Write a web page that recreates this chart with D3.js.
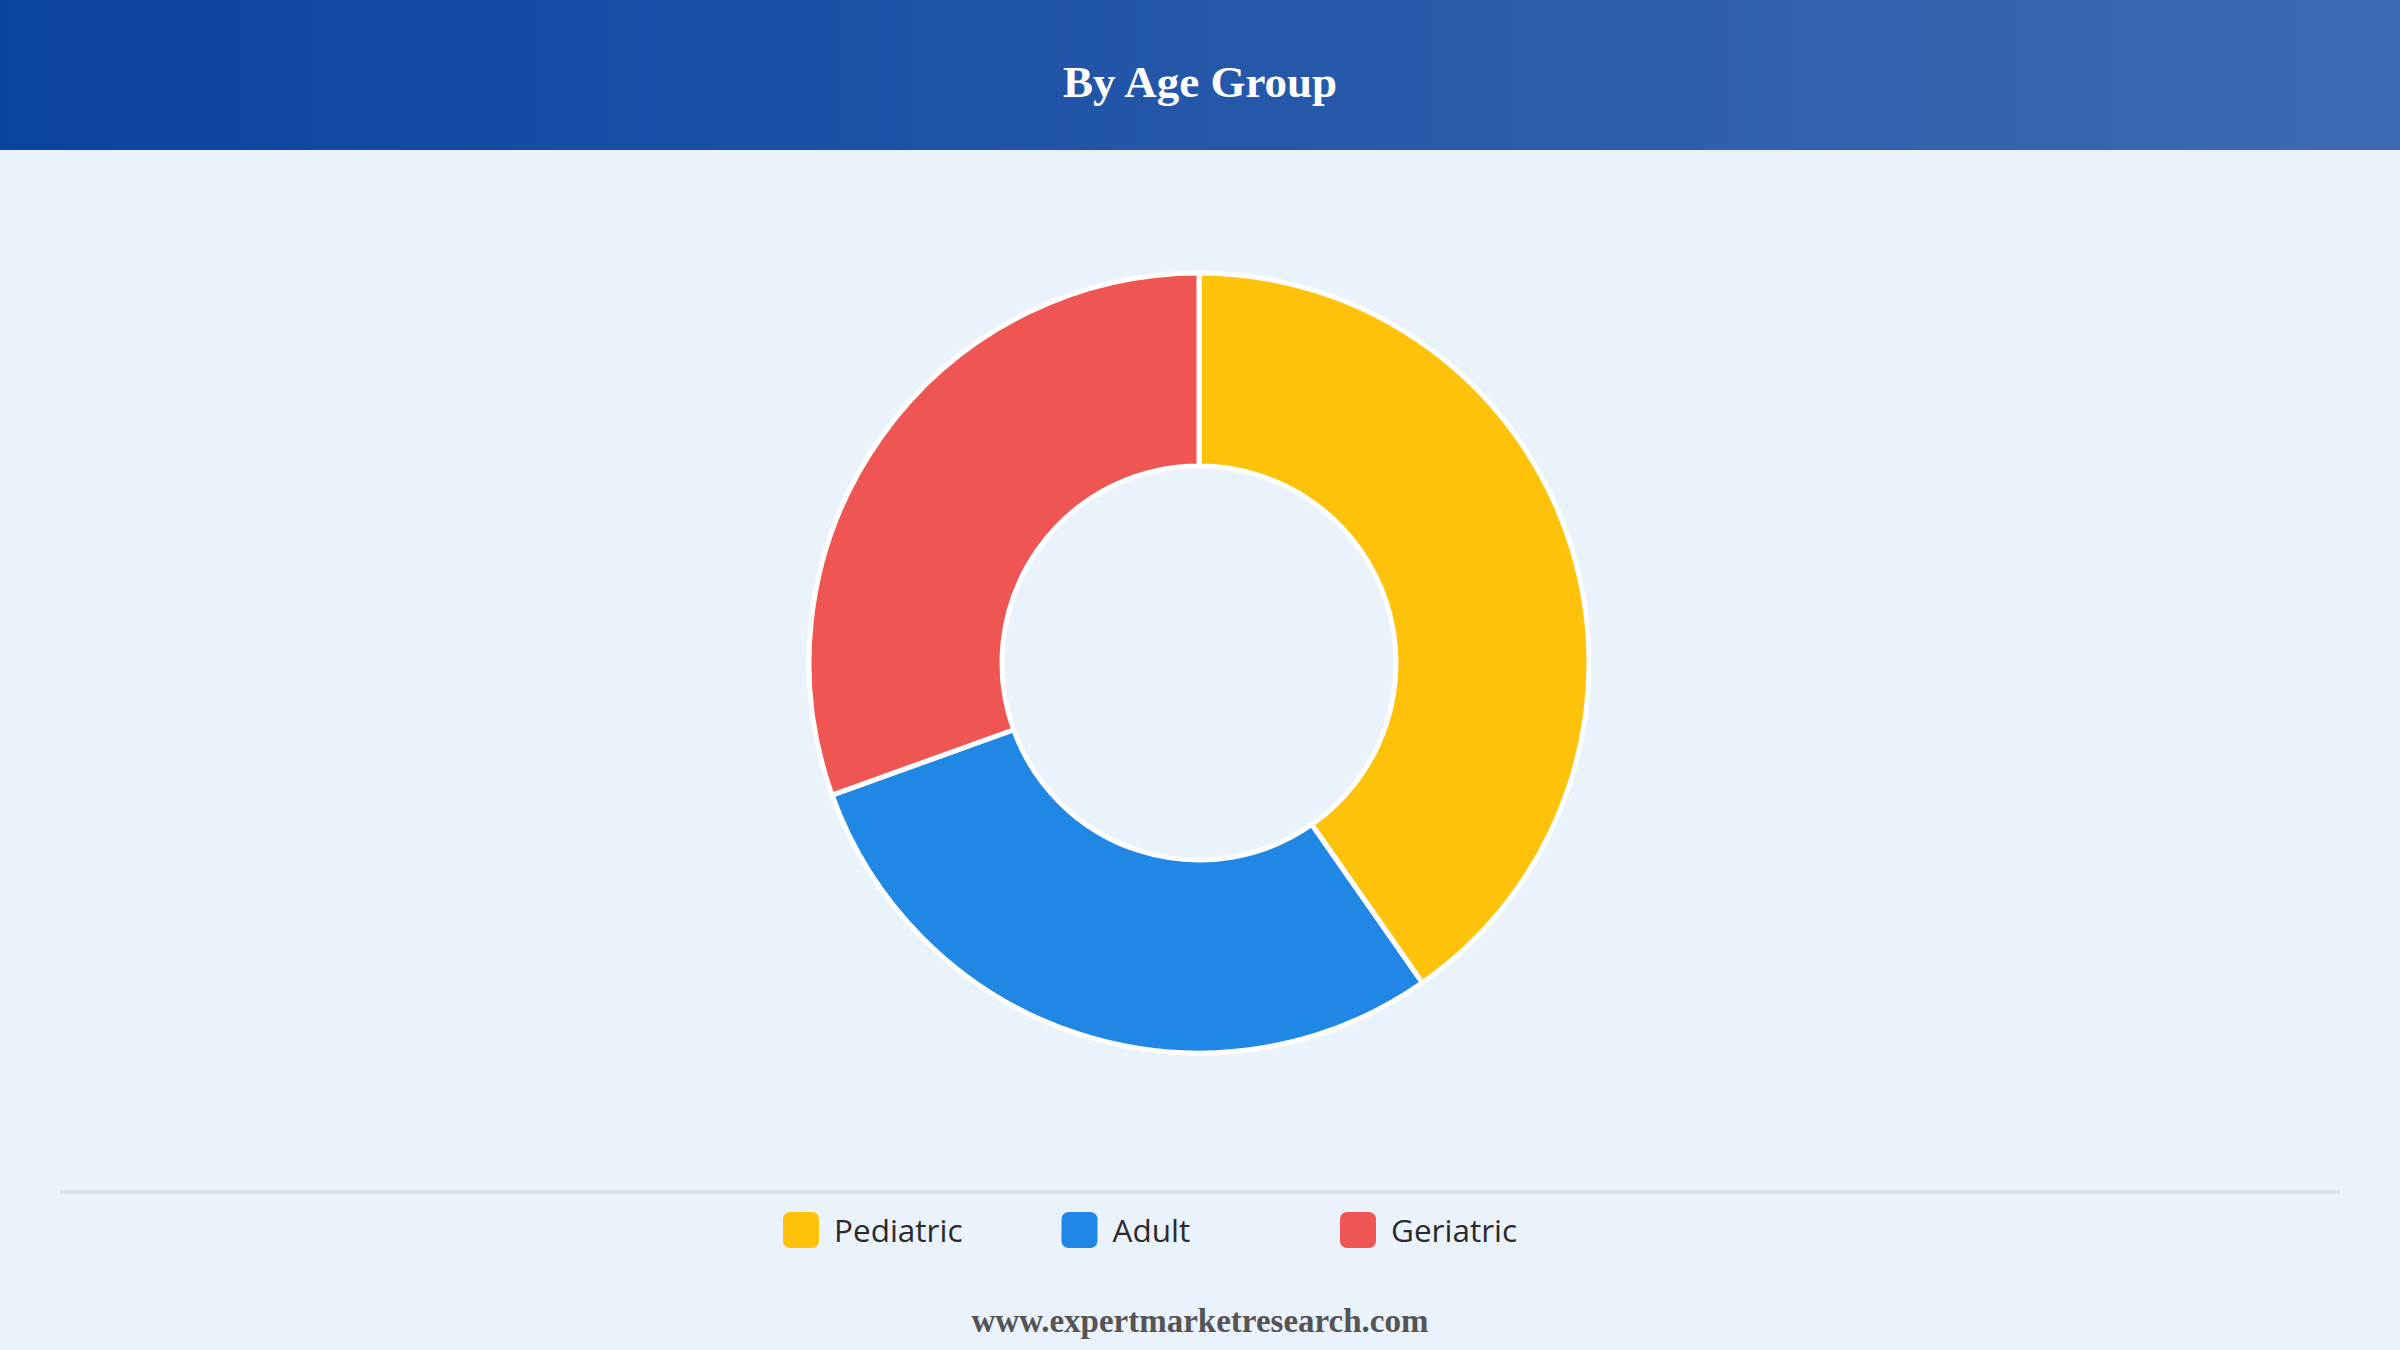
<!DOCTYPE html>
<html>
<head>
<meta charset="utf-8">
<script src="https://cdn.jsdelivr.net/npm/d3@7"></script>
<style>
  html, body { margin: 0; padding: 0; background: #eaf2fb; }
  svg { display: block; }
</style>
</head>
<body>
<svg id="chart" width="2400" height="1350"></svg>
<script>
// chart data
var categories = ["Pediatric", "Adult", "Geriatric"];
var shares = [40.3, 29.2, 30.5];
var colors = ["#ffc20a", "#2088e4", "#ef5553"];
var title = "By Age Group";
var source = "www.expertmarketresearch.com";

var svg = d3.select("#chart"),
    width = +svg.attr("width"),
    height = +svg.attr("height");

var defs = svg.append("defs");
var grad = defs.append("linearGradient")
    .attr("id", "hdr")
    .attr("x1", "0%").attr("x2", "100%")
    .attr("y1", "0%").attr("y2", "0%");
grad.append("stop").attr("offset", "0%").attr("stop-color", "#0b43a0");
grad.append("stop").attr("offset", "100%").attr("stop-color", "#3d6bb3");

svg.append("rect")
    .attr("width", width).attr("height", height)
    .attr("fill", "#eaf2fb");

// header band
svg.append("rect")
    .attr("width", width).attr("height", 150)
    .attr("fill", "url(#hdr)");

svg.append("text")
    .attr("x", width / 2).attr("y", 97)
    .attr("text-anchor", "middle")
    .attr("fill", "#fff")
    .attr("font-family", "'Liberation Serif', 'Times New Roman', serif")
    .attr("font-weight", "bold")
    .attr("font-size", 45)
    .text(title);

// donut
var cx = 1199, cy = 663, outer = 390, inner = 197;

var pie = d3.pie().sort(null).value(function(d) { return d; });
var arc = d3.arc().innerRadius(inner).outerRadius(outer);

var g = svg.append("g").attr("transform", "translate(" + cx + "," + cy + ")");

g.selectAll("path")
    .data(pie(shares))
    .enter().append("path")
    .attr("d", arc)
    .attr("fill", function(d, i) { return colors[i]; })
    .attr("stroke", "#fff")
    .attr("stroke-width", 5);

// divider
svg.append("line")
    .attr("x1", 60).attr("x2", 2340)
    .attr("y1", 1192).attr("y2", 1192)
    .attr("stroke", "#d9dce0")
    .attr("stroke-width", 3);

// legend
var lx = d3.scalePoint().domain(categories).range([783, 1340]);

var items = svg.selectAll(".legend")
    .data(categories)
    .enter().append("g")
    .attr("class", "legend")
    .attr("transform", function(d) { return "translate(" + lx(d) + ",1212)"; });

items.append("rect")
    .attr("width", 36).attr("height", 36)
    .attr("rx", 7)
    .attr("fill", function(d, i) { return colors[i]; });

items.append("text")
    .attr("x", 51).attr("y", 30)
    .attr("fill", "#2b2b2b")
    .attr("font-family", "'Open Sans', 'Noto Sans', sans-serif")
    .attr("font-weight", 500)
    .attr("font-size", 31.5)
    .text(function(d) { return d; });

// source
svg.append("text")
    .attr("x", width / 2).attr("y", 1332)
    .attr("text-anchor", "middle")
    .attr("fill", "#555")
    .attr("font-family", "'Liberation Serif', 'Times New Roman', serif")
    .attr("font-weight", "bold")
    .attr("font-size", 33)
    .text(source);
</script>
</body>
</html>
